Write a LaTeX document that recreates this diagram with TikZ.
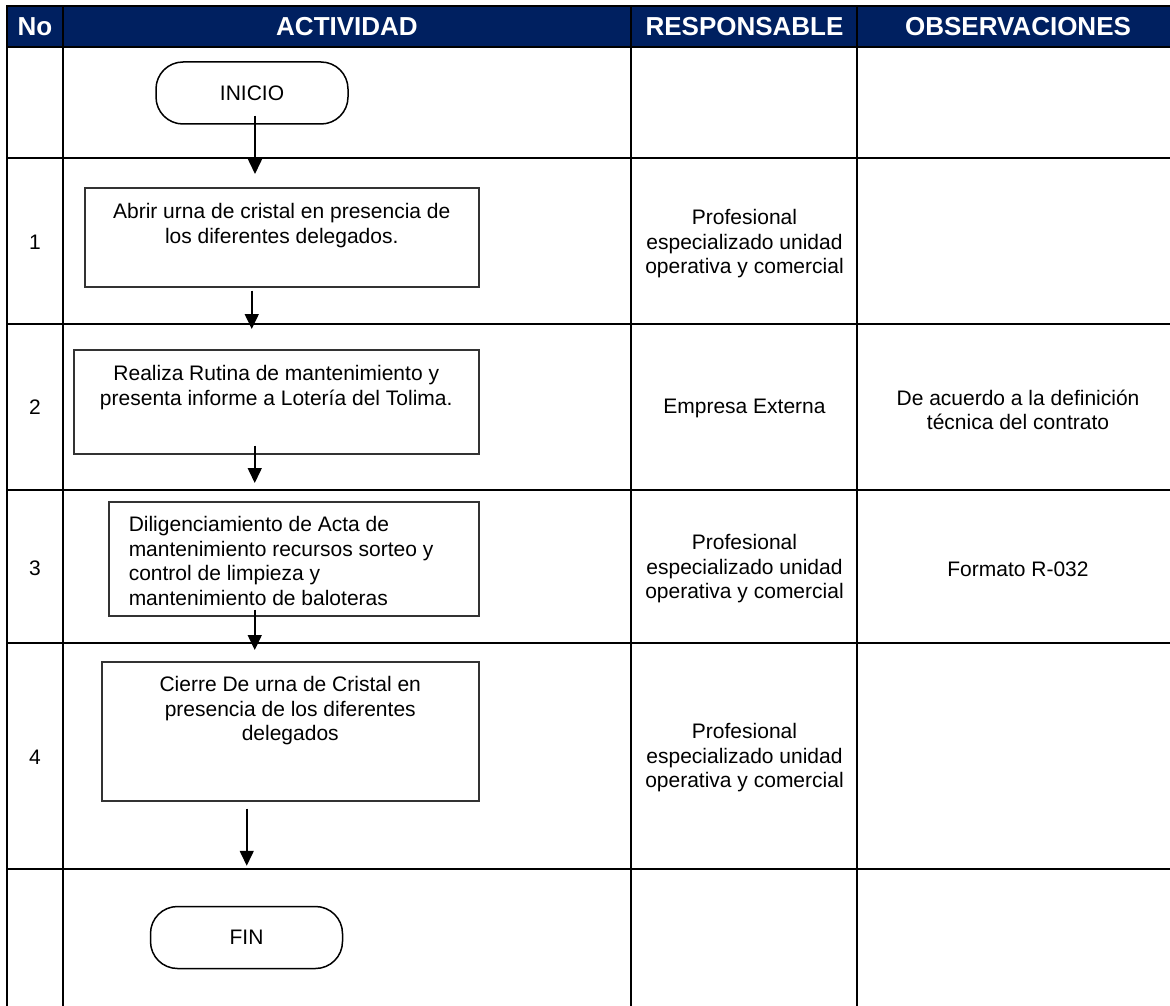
\documentclass[tikz,border=0pt]{standalone}
\usepackage{fontspec}
\setmainfont{Liberation Sans}
\usetikzlibrary{arrows.meta,calc}
\definecolor{hdrblue}{HTML}{002060}
\begin{document}
\begin{tikzpicture}[x=1pt,y=1pt,
  grid/.style={line width=2.4pt, black, line cap=rect},
  hdr/.style={text=white, font=\fontsize{26}{30}\selectfont\bfseries, anchor=base, inner sep=0pt},
  body/.style={font=\fontsize{21}{24.5}\selectfont, align=center, inner sep=0pt},
  procbox/.style={draw=black!80, line width=1.5pt, inner sep=0pt, anchor=north west, font=\fontsize{21}{24.5}\selectfont},
  term/.style={draw=black, line width=1.5pt, rounded corners=27pt, minimum width=192pt, minimum height=62pt, font=\fontsize{21}{24.5}\selectfont, inner sep=0pt},
  arr/.style={line width=1.6pt, -{Triangle[width=14pt,length=15pt]}}
]
\useasboundingbox (0,0) rectangle (1170,-1006);
\clip (0,0) rectangle (1170,-1006);
% header band
\fill[hdrblue] (7,-6) rectangle (1190,-47);
% grid
\foreach \y in {6,47,158,324,490,643,869} \draw[grid] (7,-\y) -- (1190,-\y);
\foreach \x in {7,63,631,857} \draw[grid] (\x,-6) -- (\x,-1015);
% header texts
\node[hdr] (hno) at (35,-36) {No};
\node[hdr] (hact) at (347,-36) {ACTIVIDAD};
\node[hdr] (hres) at (744.5,-36) {RESPONSABLE};
\node[hdr] (hobs) at (1018,-36) {OBSERVACIONES};
% numbers
\node[body] (n1) at (35,-242) {1};
\node[body] (n2) at (35,-407) {2};
\node[body] (n3) at (35,-568) {3};
\node[body] (n4) at (35,-757) {4};
% flow
\node[term] (ini) at (252,-93) {INICIO};
\node[procbox] (b1) at (84,-187) {\parbox[c][99pt][t]{394pt}{\centering\rule{0pt}{31pt}Abrir urna de cristal en presencia de\\los diferentes delegados.}};
\node[procbox] (b2) at (73,-349) {\parbox[c][104pt][t]{405pt}{\centering\rule{0pt}{31pt}Realiza Rutina de mantenimiento y\\presenta informe a Lotería del Tolima.}};
\node[procbox] (b3) at (108,-501) {\parbox[c][114pt][t]{370pt}{\raggedright\leftskip=20pt\rule{0pt}{30pt}Diligenciamiento de Acta de\\mantenimiento recursos sorteo y\\control de limpieza y\\mantenimiento de baloteras}};
\node[procbox] (b4) at (101,-661) {\parbox[c][139pt][t]{377pt}{\centering\rule{0pt}{30pt}Cierre De urna de Cristal en\\presencia de los diferentes\\delegados}};
\node[term] (fin) at (246.5,-937.5) {FIN};
% arrows
\draw[arr] ($(ini.south)+(3,9)$) -- ($(ini.south |- b1.north)+(3,13)$);
\draw[arr] ($(b1.south)+(-30,-3)$) -- ($(b1.south |- b2.north)+(-30,20)$);
\draw[arr] ($(b2.south)+(-21.5,9)$) -- ($(b2.south |- b3.north)+(-21.5,18)$);
\draw[arr] ($(b3.south)+(-39,7)$) -- ($(b3.south |- b4.north)+(-39,11)$);
\draw[arr] ($(b4.south)+(-43.5,-7)$) -- ($(b4.south |- fin.north)+(-43.5,40)$);
% responsable
\node[body] (r1) at (744.5,-244) {Profesional\\especializado unidad\\operativa y comercial};
\node[body] (r2) at (744.5,-408) {Empresa Externa};
\node[body] (r3) at (744.5,-569) {Profesional\\especializado unidad\\operativa y comercial};
\node[body] (r4) at (744.5,-758) {Profesional\\especializado unidad\\operativa y comercial};
% observaciones
\node[body] (o2) at (1018,-410) {De acuerdo a la definición\\técnica del contrato};
\node[body] (o3) at (1018,-569) {Formato R-032};
\end{tikzpicture}
\end{document}
